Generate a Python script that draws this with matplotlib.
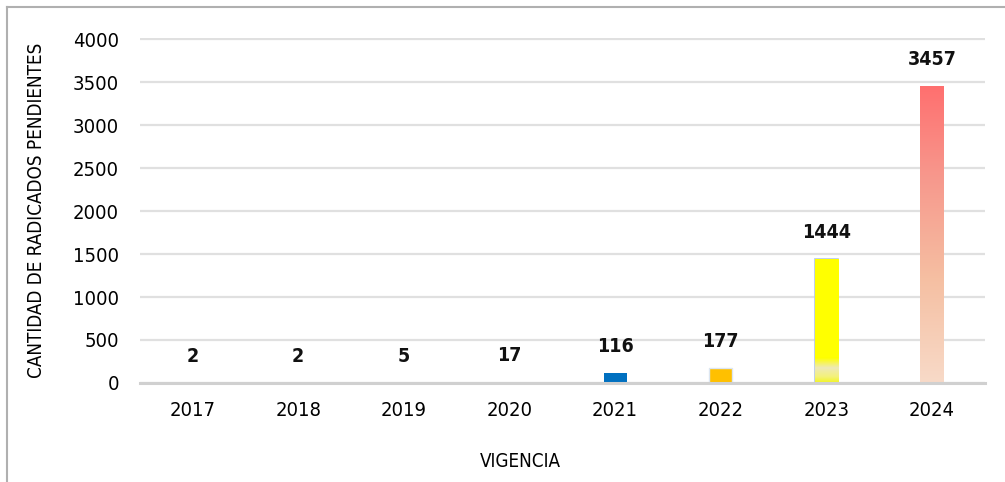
import matplotlib.pyplot as plt
import matplotlib.colors as colors
import numpy as np
from matplotlib.lines import Line2D

# Datos
vigencias = ['2017', '2018', '2019', '2020', '2021', '2022', '2023', '2024']
pendientes = [2, 2, 5, 17, 116, 177, 1444, 3457]
colores = ['#A5A5A5', '#ED7D31', '#5B9BD5', '#70AD47', '#0070C0', '#FFC000', '#FFFF00', '#FF6F6F']
y_ticks = [0, 500, 1000, 1500, 2000, 2500, 3000, 3500, 4000]

plt.rcParams['font.family'] = ['DejaVu Sans']
plt.rcParams['font.stretch'] = 'condensed'

fig = plt.figure(figsize=(10.05, 4.82), dpi=100)
ax = fig.add_axes([0.139, 0.2054, 0.841, 0.7158])

x = np.arange(len(vigencias))
bars = ax.bar(x, pendientes, width=0.22, color=colores, zorder=3)
bars[5].set_edgecolor('#DCE6F2')
bars[6].set_edgecolor('#B4C7E7')
bars[6].set_linewidth(1.2)

# degradados de 2023 y 2024
def gradient_bar(bar, stops):
    cmap = colors.LinearSegmentedColormap.from_list('g', stops)
    grad = np.linspace(0, 1, 256).reshape(-1, 1)
    bx, by = bar.get_x(), bar.get_y()
    img = ax.imshow(grad, cmap=cmap, aspect='auto', origin='lower',
                    extent=[bx, bx + bar.get_width(), by, by + bar.get_height()],
                    zorder=3.5)
    img.set_clip_path(bar)

gradient_bar(bars[6], [(0.0, '#F2F520'), (0.05, '#F4F27A'), (0.12, '#EEE9B8'),
                       (0.2, '#FFFF00'), (1.0, '#FFFF00')])
gradient_bar(bars[7], [(0.0, '#F8DAC8'), (0.35, '#F5BFA2'), (0.7, '#F7978C'),
                       (1.0, '#FF6F6F')])
ax.set_xlim(-0.5, len(vigencias) - 0.5)
ax.set_ylim(0, 4012)

for i, v in enumerate(pendientes):
    ax.annotate(str(v), (x[i], v), xytext=(0, 12), textcoords='offset points',
                ha='center', va='bottom', fontsize=14, fontweight='bold', color='#111111')

ax.set_yticks(y_ticks)
ax.set_xticks(x)
ax.set_xticklabels(vigencias)
ax.tick_params(axis='y', length=0, pad=15, labelsize=14.5)
ax.tick_params(axis='x', length=0, pad=13, labelsize=14.5)
ax.yaxis.grid(True, color='#E0E0E0', linewidth=1.6, zorder=0)
for s in ['top', 'right', 'left']:
    ax.spines[s].set_visible(False)
ax.spines['bottom'].set_color('#D0D0D0')
ax.spines['bottom'].set_linewidth(2.2)
ax.spines['bottom'].set_zorder(4)

ax.set_ylabel('CANTIDAD DE RADICADOS PENDIENTES', fontsize=13.5, labelpad=19)
ax.set_xlabel('VIGENCIA', fontsize=13.5, labelpad=22)
ax.xaxis.set_label_coords(0.45, -0.2)

# marco de la imagen
fig.add_artist(Line2D([0.007, 0.007], [0, 0.986], color='#B0B0B0', lw=1.5))
fig.add_artist(Line2D([0.007, 1.0], [0.986, 0.986], color='#B0B0B0', lw=1.5))

plt.savefig('out.png', dpi=100)
